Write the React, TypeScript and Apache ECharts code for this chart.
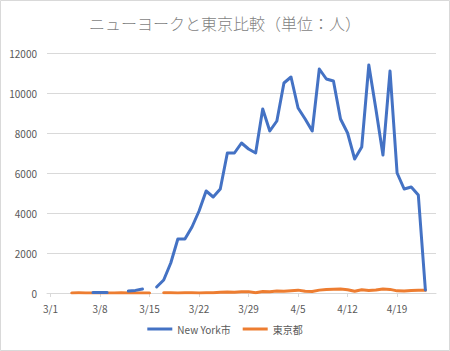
import React, { useEffect, useRef } from "react";
import * as echarts from "echarts";

const dates = [
  "3/1", "3/2", "3/3", "3/4", "3/5", "3/6", "3/7", "3/8", "3/9", "3/10",
  "3/11", "3/12", "3/13", "3/14", "3/15", "3/16", "3/17", "3/18", "3/19", "3/20",
  "3/21", "3/22", "3/23", "3/24", "3/25", "3/26", "3/27", "3/28", "3/29", "3/30",
  "3/31", "4/1", "4/2", "4/3", "4/4", "4/5", "4/6", "4/7", "4/8", "4/9",
  "4/10", "4/11", "4/12", "4/13", "4/14", "4/15", "4/16", "4/17", "4/18", "4/19",
  "4/20", "4/21", "4/22", "4/23", "4/24",
];

const newYork = [
  null, null, null, null, null, null, 20, 30, 20, null,
  null, 100, 130, 200, null, 300, 650, 1500, 2700, 2700,
  3300, 4100, 5100, 4800, 5200, 7000, 7000, 7500, 7200, 7000,
  9200, 8100, 8600, 10500, 10800, 9250, 8700, 8100, 11200, 10700,
  10600, 8700, 8000, 6700, 7300, 11400, 9200, 6900, 11100, 6000,
  5200, 5300, 4900, 150, null,
];

const tokyo = [
  null, null, null, 3, 8, 6, 3, 1, 3, 0,
  7, 2, 5, 3, 2, null, 7, 9, 2, 11,
  7, 3, 16, 17, 41, 47, 40, 63, 68, 13,
  78, 66, 97, 89, 116, 143, 83, 80, 144, 178,
  189, 197, 166, 91, 161, 127, 149, 201, 181, 107,
  102, 123, 132, 134, null,
];

const yTicks = { min: 0, max: 12000, interval: 2000 };

export default function App() {
  const ref = useRef<HTMLDivElement>(null);
  useEffect(() => {
    document.body.style.margin = "0";
    if (!ref.current) return;
    const chart = echarts.init(ref.current, null, { renderer: "svg" });
    const font = "'Noto Sans CJK JP', 'Noto Sans', sans-serif";
    chart.setOption({
      animation: false,
      backgroundColor: "#ffffff",
      textStyle: { fontFamily: font },
      title: {
        text: "ニューヨークと東京比較（単位：人）",
        left: "center",
        top: 10,
        textStyle: { fontFamily: font, fontSize: 16, fontWeight: 300, color: "#7f7f7f" },
      },
      graphic: [
        {
          type: "rect",
          shape: { x: 0.5, y: 0.5, width: 449, height: 350 },
          style: { fill: "none", stroke: "#d9d9d9", lineWidth: 1 },
          silent: true,
        },
      ],
      grid: { left: 47, right: 14, top: 53, bottom: 58 },
      legend: {
        bottom: 12,
        left: "center",
        itemWidth: 25,
        itemHeight: 3,
        itemGap: 12,
        icon: "rect",
        textStyle: { fontFamily: font, fontSize: 10, color: "#595959" },
        data: ["New York市", "東京都"],
      },
      xAxis: {
        type: "category",
        data: dates,
        boundaryGap: true,
        axisLine: { lineStyle: { color: "#d9d9d9" } },
        axisTick: { show: true, alignWithLabel: true, interval: 6, length: 4, lineStyle: { color: "#d9d9d9" } },
        axisLabel: { interval: 6, color: "#595959", fontSize: 10, margin: 10, fontFamily: font },
      },
      yAxis: {
        type: "value",
        min: yTicks.min,
        max: yTicks.max,
        interval: yTicks.interval,
        axisLine: { show: false },
        axisTick: { show: false },
        axisLabel: {
          color: "#595959",
          fontSize: 10,
          margin: 10,
          fontFamily: font,
          formatter: (v: number) => String(v),
        },
        splitLine: { lineStyle: { color: "#d9d9d9" } },
      },
      series: [
        {
          name: "New York市",
          type: "line",
          data: newYork,
          symbol: "none",
          connectNulls: false,
          z: 3,
          lineStyle: { width: 3, color: "#4472C4", cap: "round", join: "round" },
          itemStyle: { color: "#4472C4" },
        },
        {
          name: "東京都",
          type: "line",
          data: tokyo,
          symbol: "none",
          connectNulls: false,
          z: 2,
          lineStyle: { width: 3, color: "#ED7D31", cap: "round", join: "round" },
          itemStyle: { color: "#ED7D31" },
        },
      ],
    });
    return () => chart.dispose();
  }, []);
  return <div ref={ref} style={{ width: 450, height: 351 }} />;
}
